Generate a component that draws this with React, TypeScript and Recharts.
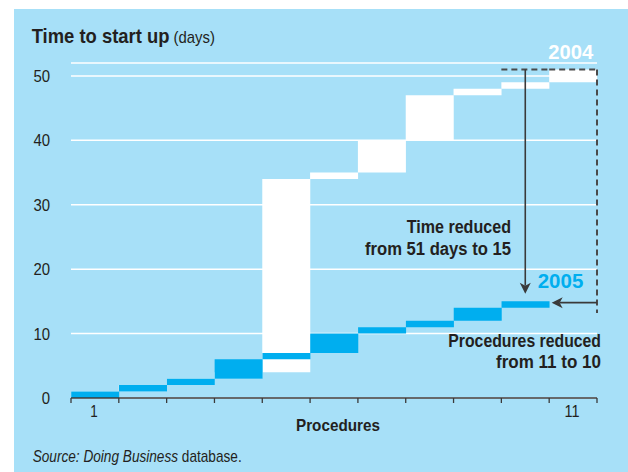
import React from 'react';
import { ComposedChart, Bar, XAxis, YAxis, CartesianGrid, ReferenceLine } from 'recharts';

// procedures, in order
const procedures = ['1', '2', '3', '4', '5', '6', '7', '8', '9', '10', '11'];

// cumulative days, [start, end] of each procedure
const days2004: [number, number][] = [
  [0, 1], [1, 2], [2, 3], [3, 4], [4, 34], [34, 35],
  [35, 40], [40, 47], [47, 48], [48, 49], [49, 51],
];
const days2005: ([number, number] | null)[] = [
  [0, 1], [1, 2], [2, 3], [3, 6], [6, 7], [7, 10],
  [10, 11], [11, 12], [12, 14], [14, 15], null,
];

const yTicks = [0, 10, 20, 30, 40, 50];
const xLabels = ['1', '11'];

const data = procedures.map((p, i) => ({
  proc: p,
  y2004: days2004[i],
  y2005: days2005[i],
}));

const W = 628;
const H = 472;
const MARGIN = { top: 63, right: 31, bottom: 44, left: 31 };
const Y_AXIS_W = 40;
const BAND = (W - MARGIN.left - MARGIN.right - Y_AXIS_W) / procedures.length;

const FONT = '"Liberation Sans", Arial, sans-serif';
const INK = '#231f20';
const LINE = '#3a3a3a';
const CYAN = '#00aeef';
const PANEL = '#a7e0f8';

const XTick = (props: any) => {
  const { x, y, payload, index } = props;
  const last = index === procedures.length - 1;
  return (
    <g>
      <line x1={x - BAND / 2} x2={x - BAND / 2} y1={y} y2={y + 5} stroke={LINE} strokeWidth={1.3} />
      {last && <line x1={x + BAND / 2} x2={x + BAND / 2} y1={y} y2={y + 5} stroke={LINE} strokeWidth={1.3} />}
      {xLabels.includes(payload.value) && (
        <text
          x={x - 1}
          y={y + 19}
          textAnchor="middle"
          fontSize={17}
          fill={INK}
          fontFamily={FONT}
          textLength={payload.value.length * 7.5}
          lengthAdjust="spacingAndGlyphs"
        >
          {payload.value}
        </text>
      )}
    </g>
  );
};

const YTick = (props: any) => {
  const { x, y, payload } = props;
  const s = String(payload.value);
  return (
    <text
      x={x}
      y={y}
      dy="0.36em"
      textAnchor="end"
      fontSize={17}
      fill={INK}
      fontFamily={FONT}
      textLength={s.length * 8.3}
      lengthAdjust="spacingAndGlyphs"
    >
      {s}
    </text>
  );
};

const Arrow = (props: any, pad = 0) => {
  const { x1, y1, x2: ex, y2: ey } = props;
  const ang = Math.atan2(ey - y1, ex - x1);
  const cos = Math.cos(ang);
  const sin = Math.sin(ang);
  const x2 = ex + pad * cos;
  const y2 = ey + pad * sin;
  const len = 11;
  const half = 5.5;
  const notch = 3;
  const bx = x2 - len * cos;
  const by = y2 - len * sin;
  const nx = x2 - (len - notch) * cos;
  const ny = y2 - (len - notch) * sin;
  const pts = [
    [x2, y2],
    [bx - half * sin, by + half * cos],
    [nx, ny],
    [bx + half * sin, by - half * cos],
  ]
    .map((p) => p.join(','))
    .join(' ');
  return (
    <g>
      <line x1={x1} y1={y1} x2={nx} y2={ny} stroke={LINE} strokeWidth={1.6} />
      <polygon points={pts} fill={LINE} />
    </g>
  );
};

const dashed = { stroke: '#4a4a4a', strokeWidth: 2, strokeDasharray: '6 4', ifOverflow: 'visible' as const };

export default function App() {
  return (
    <div style={{ position: 'fixed', left: 0, top: 0, width: W, height: H, background: '#fff' }}>
      <div style={{ position: 'absolute', left: 14, top: 9, width: W - 14, height: H - 9, background: PANEL }} />
      <div style={{ position: 'absolute', left: 0, top: 0 }}>
        <ComposedChart
          width={W}
          height={H}
          data={data}
          margin={MARGIN}
          barCategoryGap={0}
          barGap="-100%"
        >
          <CartesianGrid horizontal vertical={false} stroke="#fff" strokeWidth={1.5} />
          <XAxis
            dataKey="proc"
            interval={0}
            tick={<XTick />}
            tickLine={false}
            tickSize={0}
            tickMargin={0}
            axisLine={{ stroke: LINE, strokeWidth: 1.3 }}
            height={30}
          />
          <YAxis
            type="number"
            domain={[0, 52]}
            ticks={yTicks}
            interval={0}
            axisLine={false}
            tickLine={false}
            tickSize={0}
            tickMargin={21}
            width={Y_AXIS_W}
            tick={<YTick />}
          />
          <Bar dataKey="y2004" fill="#fff" isAnimationActive={false} />
          <Bar dataKey="y2005" fill={CYAN} isAnimationActive={false} />
          <ReferenceLine segment={[{ x: '10', y: 51 }, { x: '11', y: 51 }]} position="start" {...dashed} />
          <ReferenceLine segment={[{ x: '10', y: 51 }, { x: '11', y: 51 }]} position="end" {...dashed} />
          <ReferenceLine segment={[{ x: '11', y: 51 }, { x: '11', y: 13.2 }]} position="end" {...dashed} />
          <ReferenceLine
            segment={[{ x: '10', y: 51 }, { x: '10', y: 16.2 }]}
            position="middle"
            ifOverflow="visible"
            shape={(p: any) => Arrow(p)}
          />
          <ReferenceLine
            segment={[{ x: '11', y: 14.8 }, { x: '10', y: 14.8 }]}
            position="end"
            ifOverflow="visible"
            shape={(p: any) => Arrow(p, -2.5)}
          />
        </ComposedChart>
      </div>
      <svg
        width={W}
        height={H}
        style={{ position: 'absolute', left: 0, top: 0, pointerEvents: 'none' }}
        fontFamily={FONT}
      >
        <text x={31.7} y={42.7} fill={INK} textLength={183.3} lengthAdjust="spacingAndGlyphs">
          <tspan fontSize={21} fontWeight="bold">Time to start up</tspan>
          <tspan fontSize={17}> (days)</tspan>
        </text>
        <g fontWeight="bold" fontSize={20}>
          <text x={593.3} y={59.3} textAnchor="end" fill="#fff" textLength={45} lengthAdjust="spacingAndGlyphs">
            2004
          </text>
          <text x={583.3} y={287.7} textAnchor="end" fill={CYAN} textLength={45.6} lengthAdjust="spacingAndGlyphs">
            2005
          </text>
        </g>
        <g fill={INK} fontWeight="bold" fontSize={18} textAnchor="end">
          <text x={511} y={233.3} textLength={104.3} lengthAdjust="spacingAndGlyphs">Time reduced</text>
          <text x={511} y={255} textLength={146} lengthAdjust="spacingAndGlyphs">from 51 days to 15</text>
          <text x={601} y={346.7} textLength={152.7} lengthAdjust="spacingAndGlyphs">Procedures reduced</text>
          <text x={601} y={367.5} textLength={105} lengthAdjust="spacingAndGlyphs">from 11 to 10</text>
        </g>
        <text x={296} y={430.7} fill={INK} fontWeight="bold" fontSize={16.5} textLength={84} lengthAdjust="spacingAndGlyphs">
          Procedures
        </text>
        <text x={32.7} y={461.7} fontSize={17} fill={INK} textLength={209} lengthAdjust="spacingAndGlyphs">
          <tspan fontStyle="italic">Source: Doing Business</tspan>
          <tspan> database.</tspan>
        </text>
      </svg>
    </div>
  );
}
